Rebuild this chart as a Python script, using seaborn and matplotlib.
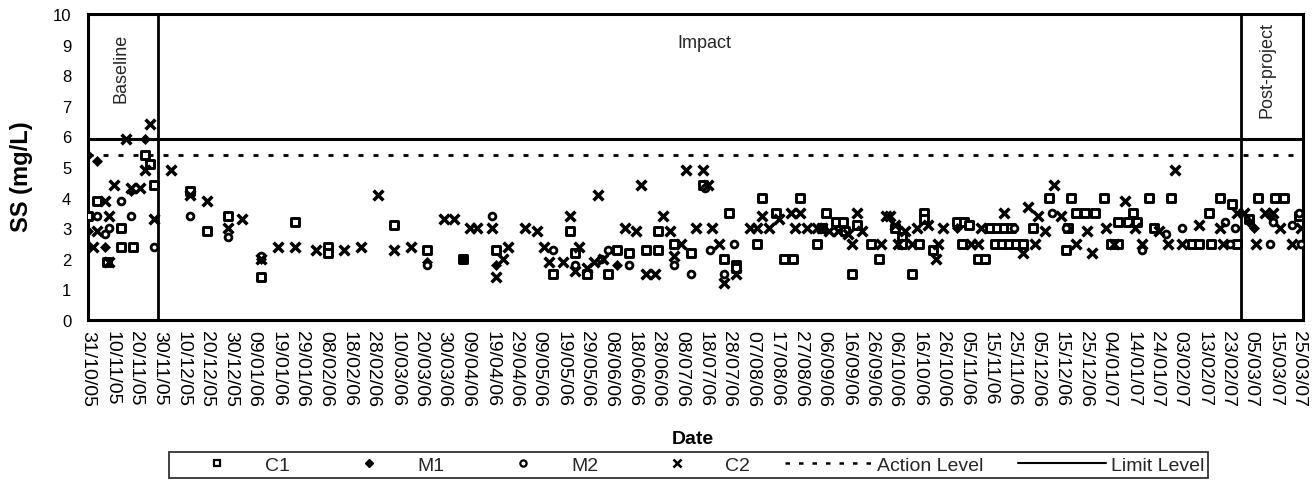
import numpy as np
import pandas as pd
import matplotlib
matplotlib.use("Agg")
import matplotlib.pyplot as plt
import seaborn as sns
from matplotlib.lines import Line2D

# ---------------- data (days after 31/10/2005, SS in mg/L) ----------------
start_date = "2005-10-31"

c1_days = [0, 4, 8, 14, 14, 19, 24, 26, 28, 43, 50, 59, 73, 87, 101, 101, 129, 143, 158, 172,
           196, 203, 205, 210, 219, 223, 228, 235, 240, 240, 247, 254, 259, 268, 270, 273, 273,
           282, 284, 290, 293, 297, 300, 307, 309, 311, 315, 318, 319, 322, 324, 330, 333, 340,
           343, 343, 347, 350, 352, 352, 356, 366, 368, 369, 371, 375, 378, 380, 382, 383, 385,
           386, 388, 389, 391, 394, 398, 405, 412, 413, 414, 416, 420, 424, 428, 431, 434, 434,
           438, 440, 442, 447, 449, 456, 465, 468, 472, 473, 477, 482, 484, 489, 493, 500, 504, 510]
c1_ss = [3.4, 3.9, 1.9, 3.0, 2.4, 2.4, 5.4, 5.1, 4.4, 4.2, 2.9, 3.4, 1.4, 3.2, 2.4, 2.2, 3.1, 2.3, 2.0, 2.3,
         1.5, 2.9, 2.2, 1.5, 1.5, 2.3, 2.2, 2.3, 2.3, 2.9, 2.5, 2.2, 4.4, 2.0, 3.5, 1.8, 1.7,
         2.5, 4.0, 3.5, 2.0, 2.0, 4.0, 2.5, 3.0, 3.5, 3.2, 3.2, 2.9, 1.5, 3.1, 2.5, 2.0, 3.0,
         2.7, 2.5, 1.5, 2.5, 3.5, 3.3, 2.3, 3.2, 2.5, 3.2, 3.1, 2.0, 2.0, 3.0, 2.5, 3.0, 2.5,
         3.0, 2.5, 3.0, 2.5, 2.5, 3.0, 4.0, 2.3, 3.0, 4.0, 3.5, 3.5, 3.5, 4.0, 2.5, 2.5, 3.2,
         3.2, 3.5, 3.2, 4.0, 3.0, 4.0, 2.5, 2.5, 3.5, 2.5, 4.0, 3.8, 2.5, 3.3, 4.0, 4.0, 4.0, 3.4]

m1_days = [0, 4, 0, 0, 7, 18, 24, 73, 143, 158, 172, 223, 366, 489, 491, 498]
m1_ss = [5.4, 5.2, 2.9, 2.4, 2.4, 4.2, 5.9, 2.0, 1.9, 2.0, 1.8, 1.8, 3.0, 3.2, 3.0, 3.4]

m2_days = [4, 7, 9, 14, 18, 28, 43, 59, 73, 143, 170, 196, 205, 216, 219, 228, 247, 254, 260,
           262, 268, 272, 390, 406, 412, 444, 454, 461, 479, 481, 483, 498, 499, 507, 510, 511]
m2_ss = [3.4, 2.8, 3.0, 3.9, 3.4, 2.4, 3.4, 2.7, 2.1, 1.8, 3.4, 2.3, 1.8, 2.0, 2.3, 1.8, 1.8, 1.5, 4.3,
         2.3, 1.5, 2.5, 3.0, 3.5, 3.0, 2.3, 2.8, 3.0, 3.2, 2.5, 3.0, 2.5, 3.2, 3.1, 3.5, 2.5]

c2_days = [2, 4, 7, 9, 9, 11, 16, 18, 22, 24, 26, 28, 35, 43, 50, 59, 65, 73, 80, 87, 96, 108,
           115, 122, 129, 136, 150, 154, 161, 164, 170, 172, 175, 177, 184, 189, 192, 194, 200,
           203, 205, 207, 210, 213, 215, 217, 226, 231, 233, 235, 239, 242, 245, 247, 250, 252,
           256, 259, 261, 263, 266, 268, 273, 279, 282, 284, 287, 291, 296, 298, 300, 303, 307,
           309, 312, 316, 320, 322, 324, 326, 334, 336, 338, 340, 341, 344, 347, 349, 354, 357,
           358, 360, 372, 375, 376, 386, 394, 396, 399, 400, 403, 407, 410, 416, 421, 423, 429,
           432, 437, 441, 444, 451, 455, 458, 461, 468, 477, 478, 484, 487, 492, 496, 499, 502,
           507, 511]
c2_ss = [2.4, 2.9, 3.9, 1.9, 3.4, 4.4, 5.9, 4.3, 4.3, 4.9, 6.4, 3.3, 4.9, 4.1, 3.9, 3.0, 3.3, 2.0, 2.4, 2.4, 2.3, 2.3,
         2.4, 4.1, 2.3, 2.4, 3.3, 3.3, 3.0, 3.0, 3.0, 1.4, 2.0, 2.4, 3.0, 2.9, 2.4, 1.9, 1.9,
         3.4, 1.6, 2.4, 1.7, 1.9, 4.1, 2.0, 3.0, 2.9, 4.4, 1.5, 1.5, 3.4, 2.9, 2.1, 2.5, 4.9,
         3.0, 4.9, 4.4, 3.0, 2.5, 1.2, 1.5, 3.0, 3.0, 3.4, 3.0, 3.3, 3.5, 3.0, 3.5, 3.0, 3.0,
         3.0, 2.9, 2.9, 2.8, 2.5, 3.5, 2.9, 2.5, 3.4, 3.4, 3.1, 2.5, 2.9, 2.5, 3.0, 3.1, 2.0,
         2.5, 3.0, 2.5, 2.5, 3.0, 3.5, 2.2, 3.7, 2.5, 3.4, 2.9, 4.4, 3.4, 2.5, 2.9, 2.2, 3.0,
         2.5, 3.9, 3.0, 2.5, 2.9, 2.5, 4.9, 2.5, 3.1, 3.0, 2.5, 3.5, 3.5, 2.5, 3.5, 3.5, 3.0,
         2.5, 3.0]

action_level = 5.4
limit_level = 5.9
baseline_end_day = 29.5
postproject_start_day = 485.5
tick_first, tick_last = "2005-10-31", "2007-03-25"
x_end_day = 511.8

# ---------------- plotting ----------------
sns.set_theme(style="white")
plt.rcParams["font.family"] = ["Liberation Sans", "DejaVu Sans"]

t0 = pd.Timestamp(start_date)
def to_dates(days):
    return t0 + pd.to_timedelta(np.asarray(days, dtype=float), unit="D")

fig = plt.figure(figsize=(13.12, 4.81), dpi=100)
ax = fig.add_axes([88 / 1312, 1 - 321 / 481, (1303 - 88) / 1312, (321 - 15) / 481])

sns.scatterplot(x=to_dates(c1_days), y=c1_ss, ax=ax, marker="s", s=38,
                facecolor="white", edgecolor="black", linewidth=2.1, zorder=4)
sns.scatterplot(x=to_dates(m1_days), y=m1_ss, ax=ax, marker="D", s=26,
                facecolor="black", edgecolor="black", linewidth=0.5, zorder=4)
sns.scatterplot(x=to_dates(m2_days), y=m2_ss, ax=ax, marker="o", s=24,
                facecolor="white", edgecolor="black", linewidth=2.0, zorder=4)
sns.scatterplot(x=to_dates(c2_days), y=c2_ss, ax=ax, marker="x", s=50,
                color="black", linewidth=2.5, zorder=4)

ax.axhline(limit_level, color="black", lw=2.2, zorder=3)
ax.axhline(action_level, color="black", lw=2.0, linestyle=(0, (1.8, 3.6)), zorder=3)
ax.axvline(to_dates([baseline_end_day])[0], color="black", lw=2.0, zorder=3)
ax.axvline(to_dates([postproject_start_day])[0], color="black", lw=2.0, zorder=3)

ax.text(to_dates([13.9])[0], 9.4, "Baseline", rotation=90, ha="center", va="top", fontsize=13)
ax.text(to_dates([259.7])[0], 8.92, "Impact", ha="center", va="baseline", fontsize=13)
ax.text(to_dates([496.6])[0], 9.78, "Post-project", rotation=90, ha="center", va="top", fontsize=13)

ax.set_xlim(t0, to_dates([x_end_day])[0])
ax.set_ylim(0, 10)
ax.set_yticks(range(0, 11))
ticks = pd.date_range(tick_first, tick_last, freq="10D")
ax.set_xticks(ticks)
ax.set_xticklabels([d.strftime("%d/%m/%y") for d in ticks], rotation=270, fontsize=14)
ax.tick_params(axis="x", direction="out", length=4, width=1, pad=3.5, colors="black")
ax.tick_params(axis="y", direction="out", length=3, width=1, pad=9, labelsize=12, colors="black")
for sp in ax.spines.values():
    sp.set_visible(True)
    sp.set_color("black")
    sp.set_linewidth(2.2)
ax.grid(False)

ax.set_ylabel("SS (mg/L)", fontsize=17, fontweight="bold", color="black")
ax.yaxis.set_label_coords(-0.045, 0.47)
ax.set_xlabel("Date", fontsize=14, fontweight="bold", color="black")
ax.xaxis.set_label_coords(0.498, -0.36)

handles = [
    Line2D([], [], marker="s", linestyle="none", markerfacecolor="white",
           markeredgecolor="black", markersize=5, markeredgewidth=1.6),
    Line2D([], [], marker="D", linestyle="none", markerfacecolor="black",
           markeredgecolor="black", markersize=4),
    Line2D([], [], marker="o", linestyle="none", markerfacecolor="white",
           markeredgecolor="black", markersize=4.5, markeredgewidth=1.6),
    Line2D([], [], marker="x", linestyle="none", color="black",
           markersize=5.5, markeredgewidth=1.8),
    Line2D([], [], color="black", lw=1.8, linestyle=(0, (1.8, 3.6))),
    Line2D([], [], color="black", lw=1.5),
]
labels = ["C1", "M1", "M2", "C2", "Action Level", "Limit Level"]
leg = fig.legend(handles, labels, loc="center", ncol=6, mode="expand",
                 bbox_to_anchor=(169 / 1312, 1 - 480 / 481, (1208 - 169) / 1312, 28 / 481),
                 fontsize=14, frameon=True, fancybox=False, shadow=False,
                 handlelength=4.5, handletextpad=0.25, columnspacing=1.2,
                 borderpad=0.2, borderaxespad=0.0)
leg.get_frame().set_edgecolor("black")
leg.get_frame().set_linewidth(1.3)

fig.savefig("out.png", dpi=100, facecolor="white")
